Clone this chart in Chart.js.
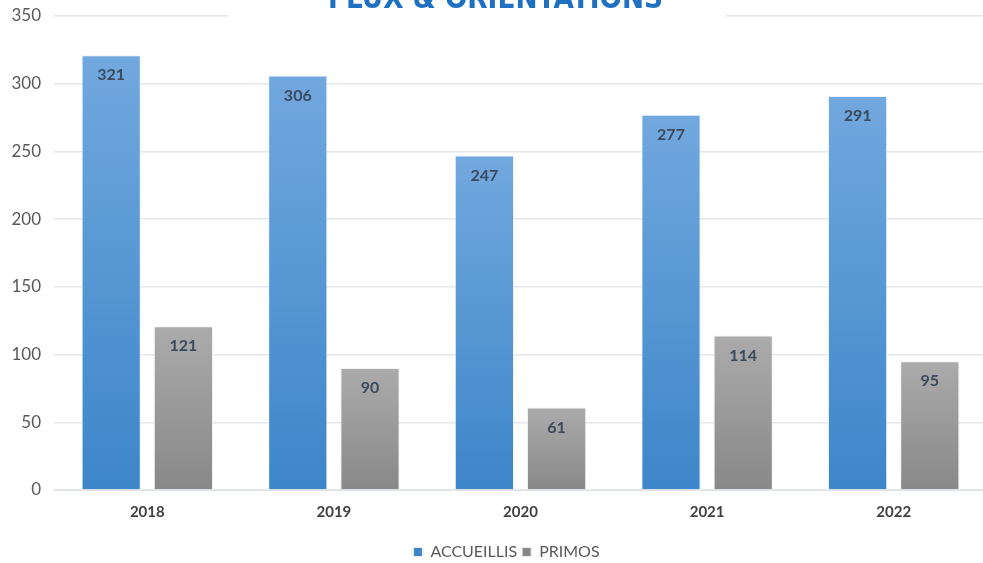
<!DOCTYPE html>
<html>
<head>
<meta charset="utf-8">
<script src="https://cdn.jsdelivr.net/npm/chart.js@4/dist/chart.umd.min.js"></script>
<style>
html,body{margin:0;padding:0;background:#fff;overflow:hidden;}
#wrap{width:983px;height:563px;position:relative;overflow:hidden;}
#c{position:absolute;left:0;top:0;}
</style>
</head>
<body>
<div id="wrap"><canvas id="c" width="987" height="563"></canvas></div>
<script>
const categories = ['2018', '2019', '2020', '2021', '2022'];
const accueillis = [321, 306, 247, 277, 291];
const primos = [121, 90, 61, 114, 95];
const seriesNames = ['ACCUEILLIS', 'PRIMOS'];
const titleText = 'FLUX & ORIENTATIONS';
const yTicks = [0, 50, 100, 150, 200, 250, 300, 350];

function gradFill(top, bottom) {
  return function (ctx) {
    const chart = ctx.chart;
    if (!chart.chartArea || ctx.type !== 'data') return bottom;
    const y = chart.scales.y;
    const y1 = y.getPixelForValue(ctx.raw);
    const y0 = y.getPixelForValue(0);
    if (!isFinite(y1) || !isFinite(y0) || y1 === y0) return bottom;
    const g = chart.ctx.createLinearGradient(0, y1, 0, y0);
    g.addColorStop(0, top);
    g.addColorStop(1, bottom);
    return g;
  };
}

const labelPlugin = {
  id: 'valueLabels',
  afterLayout(chart) {
    if (chart.legend) {
      chart.legend.left = 26;
    }
  },
  afterDatasetsDraw(chart) {
    const c = chart.ctx;
    c.save();
    c.font = 'bold 16px Lato, "Open Sans", sans-serif';
    c.fillStyle = '#3b4a5e';
    c.textAlign = 'center';
    c.textBaseline = 'middle';
    chart.data.datasets.forEach((ds, di) => {
      const meta = chart.getDatasetMeta(di);
      meta.data.forEach((bar, i) => {
        c.fillText(String(ds.data[i]), bar.x, bar.y + 20);
      });
    });
    // title box and title
    c.fillStyle = '#ffffff';
    c.fillRect(228, 0, 498, 21);
    c.fillStyle = '#1f70c1';
    c.textAlign = 'left';
    c.textBaseline = 'alphabetic';
    c.font = '900 30px "DejaVu Sans", "Liberation Sans", sans-serif';
    const w = c.measureText(titleText).width;
    const target = 335;
    c.translate(328, 8);
    c.scale(target / w, 1);
    c.fillText(titleText, 0, 0);
    c.restore();
  }
};

new Chart(document.getElementById('c'), {
  type: 'bar',
  data: {
    labels: categories,
    datasets: [
      {
        label: seriesNames[0],
        data: accueillis,
        backgroundColor: gradFill('#71a8de', '#3d86c9'),
        borderColor: 'rgba(235,243,250,0.9)',
        borderWidth: 1,
        categoryPercentage: 0.774,
        barPercentage: 0.82
      },
      {
        label: seriesNames[1],
        data: primos,
        backgroundColor: gradFill('#ababab', '#888888'),
        borderColor: 'rgba(240,240,240,0.9)',
        borderWidth: 1,
        categoryPercentage: 0.774,
        barPercentage: 0.82
      }
    ]
  },
  options: {
    responsive: false,
    animation: false,
    layout: { padding: { top: 16, right: 0, left: 0, bottom: -7 } },
    scales: {
      x: {
        grid: { display: false, drawTicks: false },
        border: { display: true, color: '#dfe3e8', width: 1 },
        ticks: { color: '#404040', font: { family: 'Lato, "Open Sans", sans-serif', size: 15, weight: 'bold' }, padding: 13 },
        afterFit(s) { s.height = 49; }
      },
      y: {
        min: 0,
        max: 350,
        afterBuildTicks(s) { s.ticks = yTicks.map(v => ({ value: v })); },
        grid: { color: '#e3e6ea', lineWidth: 1.5, drawTicks: true, tickLength: 13, tickColor: 'rgba(0,0,0,0)' },
        border: { display: false },
        ticks: { color: '#595959', font: { family: 'Lato, "Open Sans", sans-serif', size: 17 }, padding: 0 },
        afterFit(s) { s.width = 54; }
      }
    },
    plugins: {
      legend: {
        position: 'bottom',
        labels: {
          boxWidth: 9,
          boxHeight: 9,
          color: '#595959',
          font: { family: 'Lato, "Open Sans", sans-serif', size: 16 },
          padding: 5
        }
      },
      tooltip: { enabled: false }
    }
  },
  plugins: [labelPlugin]
});
</script>
</body>
</html>
